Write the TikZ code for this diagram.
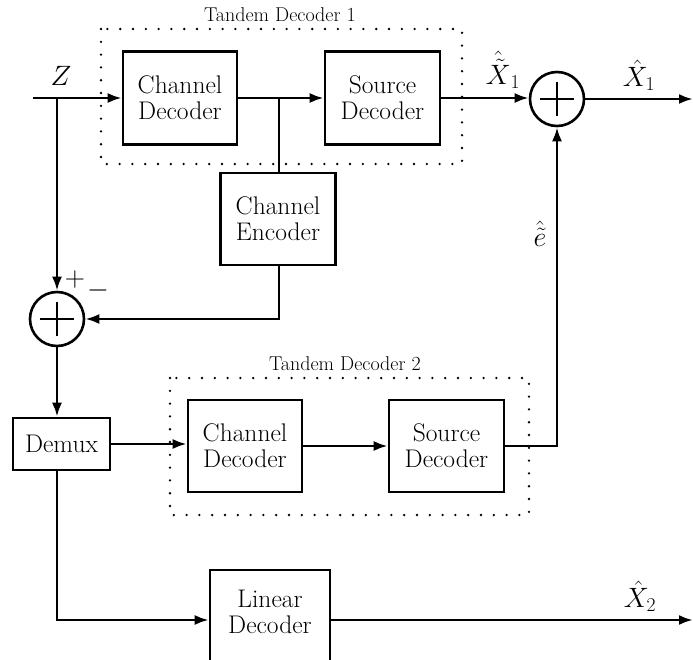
\RequirePackage{fix-cm}
\documentclass[tikz,border=0pt]{standalone}
\usetikzlibrary{arrows.meta}
\begin{document}
\begin{tikzpicture}[x=1pt,y=-1pt,
  line width=2.6pt,
  box/.style={draw,line width=2.6pt,align=center,inner sep=0pt,
    font=\fontsize{25.5}{26}\selectfont},
  arr/.style={-{Latex[length=14pt,width=10pt]}},
  dotbox/.style={line width=2.6pt,line cap=round,dash pattern=on 0pt off 12.8pt},
  lbl/.style={font=\fontsize{20}{22}\selectfont,inner sep=0pt},
  mlbl/.style={font=\fontsize{28}{30}\selectfont,inner sep=0pt},
  sumnode/.style={circle,draw,line width=2.6pt,minimum size=54pt,inner sep=0pt,
    path picture={\draw[line width=2.6pt]
      ([xshift=-17pt]path picture bounding box.center) -- ([xshift=17pt]path picture bounding box.center)
      ([yshift=-17pt]path picture bounding box.center) -- ([yshift=17pt]path picture bounding box.center);}}
]
\useasboundingbox (0,0) rectangle (693,659);

% dotted tandem boxes
\draw[dotbox] (101,29) rectangle (462,164);
\draw[dotbox] (170,378) rectangle (529,515);
\node[lbl] (td1) at (280,15) {Tandem Decoder 1};
\node[lbl] (td2) at (345,364) {Tandem Decoder 2};

% blocks
\node[box,minimum width=114pt,minimum height=93pt] (cd1) at (180,98) {Channel\\Decoder};
\node[box,minimum width=115pt,minimum height=93pt] (sd1) at (382.5,98) {Source\\Decoder};
\node[box,minimum width=115pt,minimum height=92pt] (enc) at (278,219) {Channel\\Encoder};
\node[sumnode] (sum1) at (557,99) {};
\node[sumnode] (sum2) at (57,319) {};
\node[box,minimum width=97pt,minimum height=52pt] (demux) at (61.5,444) {Demux};
\node[box,minimum width=114pt,minimum height=92pt] (cd2) at (245,446) {Channel\\Decoder};
\node[box,minimum width=115pt,minimum height=92pt] (sd2) at (446.5,446) {Source\\Decoder};
\node[box,minimum width=120pt,minimum height=96pt] (lin) at (270,618) {};
\node[box,draw=none] (lintext) at (270,612) {Linear\\Decoder};

% coordinates
\coordinate (zin) at (33,98);
\coordinate (zbr) at (57,98);
\coordinate (ebr) at (279,98);
\coordinate (out1) at (693,99);
\coordinate (out2) at (693,620);

% connectors
\draw[arr] (zin) -- (cd1.west);
\draw[arr] (cd1.east) -- (sd1.west);
\draw (ebr) -- (ebr |- enc.north);
\draw[arr] (sd1.east) -- (sd1.east -| sum1.west);
\draw[arr] (sum1.east) -- (out1);
\draw[arr] (zbr) -- (sum2.north);
\draw[arr] (ebr |- enc.south) |- (sum2.east);
\draw[arr] (sum2.south) -- (sum2.south |- demux.north);
\draw[arr] (demux.east) -- (demux.east -| cd2.west);
\draw[arr] (cd2.east) -- (sd2.west);
\draw[arr] (sd2.east) -| (sum1.south);
\draw[arr] (sum2.center |- demux.south) |- (lin.west |- out2);
\draw[arr] (lin.east |- out2) -- (out2);

% labels
\node[mlbl] (zl) at (61,76) {$Z$};
\node[mlbl] (x1t) at (503,70) {$\hat{\tilde{X}}_1$};
\node[mlbl] (x1) at (639,75) {$\hat{X}_1$};
\node[mlbl] (el) at (540,234) {$\hat{\tilde{e}}$};
\node[mlbl] (x2) at (640,596) {$\hat{X}_2$};
\node[mlbl] (pl) at (75,279) {$+$};
\node[mlbl] (mi) at (98,290) {$-$};
\end{tikzpicture}
\end{document}
